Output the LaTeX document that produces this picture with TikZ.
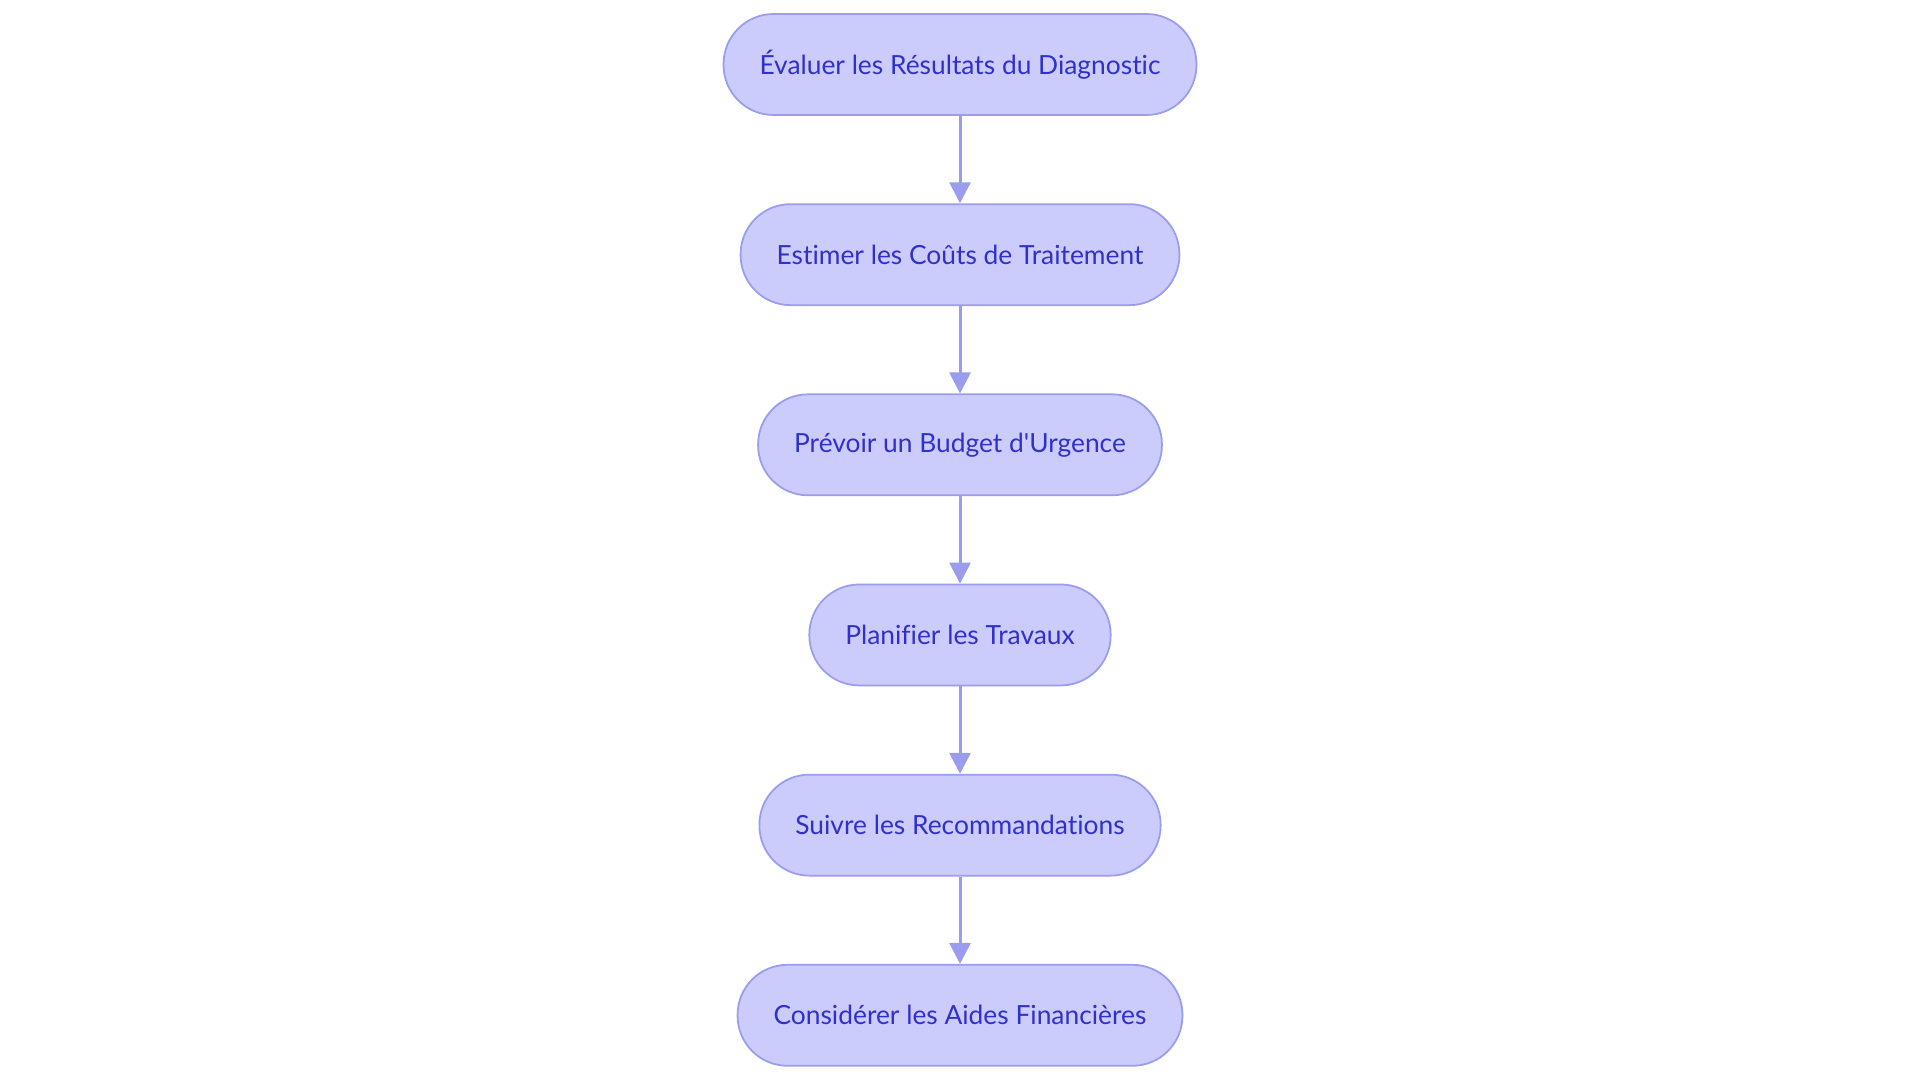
\documentclass[tikz,border=0pt]{standalone}
\usepackage{fontspec}
\setmainfont{Lato}[Ligatures={TeXOff,NoCommon}]
\usepackage{xcolor}
\usepackage{tikz}
\usetikzlibrary{arrows.meta, positioning}
\definecolor{pillfill}{HTML}{CBCCFC}
\definecolor{pillline}{HTML}{9A9CEE}
\definecolor{pilltext}{HTML}{3030CC}
\tikzstyle{arrow} = [draw=pillline, line width=0.85pt, -{Triangle[width=0.21cm, length=0.21cm]}]

\begin{document}
\begin{tikzpicture}[node distance=0.874cm,
    etape/.style={rectangle, rounded corners=0.5cm, minimum height=1.01cm, inner xsep=0.36cm, text centered, draw=pillline, line width=0.5pt, fill=pillfill, text=pilltext, font=\fontsize{7.5}{9}\selectfont}]
    \useasboundingbox (0,0) rectangle (19.2,-10.83);

    % Etapes du budget
    \node[etape] (eval) at (9.6,-0.645) {Évaluer les Résultats du Diagnostic};
    \node[etape, below=of eval] (couts) {Estimer les Coûts de Traitement};
    \node[etape, below=of couts] (budget) {Prévoir un Budget d'Urgence};
    \node[etape, below=of budget] (plan) {Planifier les Travaux};
    \node[etape, below=of plan] (suivre) {Suivre les Recommandations};
    \node[etape, below=of suivre] (aides) {Considérer les Aides Financières};

    % Fleches
    \draw[arrow] (eval) -- (couts);
    \draw[arrow] (couts) -- (budget);
    \draw[arrow] (budget) -- (plan);
    \draw[arrow] (plan) -- (suivre);
    \draw[arrow] (suivre) -- (aides);
\end{tikzpicture}
\end{document}
